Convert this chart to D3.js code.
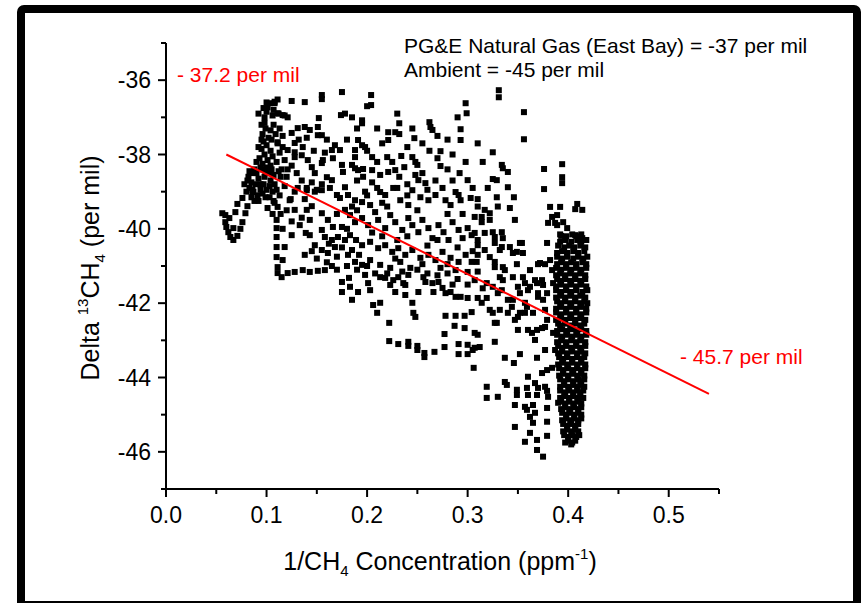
<!DOCTYPE html>
<html><head><meta charset="utf-8">
<script src="https://cdn.jsdelivr.net/npm/d3@7"></script>
<style>body{margin:0;background:#fff}svg{display:block}</style>
</head><body>
<svg id="chart" width="861" height="603"></svg>
<script>
// ---- data ----
const xMajorTicks = [0.0, 0.1, 0.2, 0.3, 0.4, 0.5];
const xMinorTicks = [0.05, 0.15, 0.25, 0.35, 0.45, 0.55];
const yMajorTicks = [-36, -38, -40, -42, -44, -46];
const yMinorTicks = [-35, -37, -39, -41, -43, -45, -47];
const xTickLabels = ["0.0", "0.1", "0.2", "0.3", "0.4", "0.5"];
const yTickLabels = ["-36", "-38", "-40", "-42", "-44", "-46"];
const fitLine = [[0.06, -38.0], [0.54, -44.44]];
const fitLabels = ["- 37.2 per mil", "- 45.7 per mil"];
const notes = ["PG&E Natural Gas (East Bay) = -37 per mil", "Ambient = -45 per mil"];
// 1/CH4 (ppm^-1), delta13CH4 (per mil)
const samples = [
[0.059,-39.63],[0.059,-39.82],[0.060,-39.95],[0.062,-40.09],[0.064,-40.22],[0.067,-40.30],[0.071,-40.19],[0.074,-40.0],[0.076,-39.82],[0.069,-39.55],[0.071,-39.33],[0.076,-39.17],[0.079,-39.58],[0.081,-39.39],[0.086,-39.01],[0.056,-39.58],[0.063,-39.71],[0.067,-39.98],
[0.097,-36.75],[0.103,-36.62],[0.108,-36.58],[0.111,-36.52],[0.100,-36.85],[0.107,-36.8],[0.112,-36.9],[0.118,-36.95],[0.121,-37.0],[0.098,-37.0],[0.095,-37.2],
[0.099,-37.3],[0.104,-37.35],[0.096,-37.45],[0.102,-37.55],[0.097,-37.65],[0.105,-37.6],[0.100,-37.75],[0.095,-37.85],[0.104,-37.9],[0.098,-38.0],[0.106,-38.05],[0.093,-38.1],[0.101,-38.15],[0.096,-38.25],[0.104,-38.3],[0.109,-37.45],[0.111,-37.7],[0.113,-37.95],[0.11,-38.2],
[0.082,-38.6],[0.085,-38.75],[0.083,-38.9],[0.087,-39.0],[0.09,-38.5],[0.092,-38.65],[0.089,-38.8],[0.094,-38.95],[0.091,-39.1],[0.096,-38.4],[0.098,-38.6],[0.097,-38.8],[0.100,-38.95],[0.099,-39.15],[0.102,-38.5],[0.104,-38.7],[0.103,-38.85],[0.106,-39.0],[0.088,-38.4],[0.085,-39.15],[0.08,-39.0],[0.078,-38.8],[0.107,-38.55],[0.094,-38.35],[0.086,-38.5],[0.092,-39.25],[0.1,-38.35],[0.108,-38.8],[0.11,-38.95],
[0.092,-36.9],[0.095,-37.6],[0.092,-37.8],[0.09,-38.2],[0.107,-37.2],[0.113,-37.3],[0.116,-37.5],[0.114,-38.6],[0.112,-38.45],[0.118,-38.15],[0.121,-38.4],[0.094,-38.8],[0.086,-38.95],[0.081,-38.7],[0.088,-39.25],[0.096,-39.05],[0.103,-39.15],[0.107,-39.25],[0.083,-38.45],[0.099,-38.5],[0.105,-38.4],[0.1,-36.6],[0.106,-36.95],[0.098,-37.15],
[0.111,-37.67],[0.116,-37.8],[0.121,-37.88],[0.128,-37.94],[0.128,-38.07],[0.135,-38.02],[0.141,-38.15],[0.145,-38.34],[0.148,-38.5],[0.155,-38.23],[0.156,-38.15],[0.136,-37.8],[0.128,-37.69],[0.125,-37.42],[0.131,-37.29],[0.138,-37.26],[0.143,-37.34],[0.151,-37.26],[0.151,-37.48],[0.155,-37.48],[0.168,-37.75],[0.165,-37.88],[0.166,-38.1],[0.173,-37.88],[0.175,-38.28],[0.176,-38.47],[0.165,-38.69],[0.16,-38.61],[0.125,-36.56],[0.138,-36.59],[0.155,-36.4],[0.155,-36.51],[0.175,-36.32],[0.174,-36.94],[0.152,-37.02],[0.116,-36.94],[0.111,-36.89],[0.101,-36.73],[0.108,-36.62],
[0.115,-38.4],[0.12,-38.6],[0.125,-38.3],[0.13,-38.5],[0.118,-38.85],[0.135,-38.7],[0.14,-38.9],[0.113,-39.1],[0.128,-39.0],[0.145,-38.75],[0.15,-38.95],[0.155,-38.8],[0.124,-39.2],[0.138,-39.2],[0.132,-37.6],[0.14,-37.55],[0.147,-37.9],[0.16,-37.6],[0.158,-37.95],
[0.101,-39.44],[0.111,-39.41],[0.11,-39.76],[0.11,-39.98],[0.11,-40.22],[0.11,-40.49],[0.11,-40.76],[0.111,-41.03],[0.118,-40.49],[0.116,-40.84],[0.125,-40.17],[0.139,-40.11],[0.114,-39.6],[0.108,-39.3],[0.116,-40.0],[0.12,-39.5],[0.106,-39.6],
[0.111,-41.19],[0.115,-41.3],[0.121,-41.19],[0.128,-41.16],[0.136,-41.11],[0.143,-41.16],[0.151,-41.13],[0.158,-41.11],[0.165,-41.0],[0.175,-41.43],[0.175,-41.7],
[0.131,-38.9],[0.14,-38.96],[0.148,-39.0],[0.155,-38.96],[0.14,-39.49],[0.145,-39.39],[0.163,-38.9],[0.17,-39.09],[0.173,-39.17],[0.155,-39.58],[0.161,-39.76],[0.166,-39.95],[0.155,-40.03],[0.158,-40.22],[0.165,-40.3],[0.168,-40.49],[0.155,-40.57],[0.161,-40.65],[0.171,-40.22],[0.175,-39.95],[0.143,-39.76],[0.133,-39.9],[0.148,-40.44],[0.138,-40.7],[0.128,-39.49],[0.123,-39.23],[0.143,-40.17],[0.15,-40.8],[0.16,-40.9],[0.17,-40.75],[0.145,-40.6],[0.135,-39.7],[0.125,-39.8],
[0.204,-36.4],[0.204,-36.67],[0.298,-36.62],[0.299,-36.89],[0.195,-37.08],[0.195,-37.16],[0.232,-37.16],[0.262,-37.13],[0.263,-37.26],[0.265,-37.34],[0.221,-37.4],[0.228,-37.4],[0.232,-37.45],[0.221,-37.61],[0.247,-37.56],[0.293,-37.32],[0.293,-37.61],[0.191,-37.61],[0.195,-37.75],[0.198,-37.8],[0.188,-37.88],[0.188,-38.07],[0.273,-37.91],[0.273,-38.31],[0.205,-38.07],[0.22,-38.07],[0.234,-38.04],[0.245,-38.07],[0.248,-38.2],[0.25,-38.28],
[0.185,-38.28],[0.188,-38.37],[0.191,-38.42],[0.196,-38.39],[0.205,-38.42],[0.213,-38.55],[0.221,-38.47],[0.228,-38.42],[0.237,-38.34],[0.248,-38.55],[0.251,-38.69],[0.258,-38.77],[0.3,-38.69],[0.288,-39.01],[0.291,-39.09],
[0.178,-38.88],[0.181,-39.09],[0.188,-39.23],[0.195,-39.28],[0.203,-39.36],[0.213,-39.01],[0.218,-39.09],[0.226,-38.9],[0.233,-39.23],[0.241,-39.36],[0.245,-38.96],[0.253,-39.15],[0.261,-39.23],[0.268,-39.09],[0.278,-39.23],[0.283,-39.36],[0.293,-39.23],[0.303,-39.17],
[0.178,-39.49],[0.183,-39.63],[0.188,-39.82],[0.195,-39.71],[0.201,-39.9],[0.208,-39.55],[0.211,-39.76],[0.218,-39.98],[0.223,-39.63],[0.228,-39.82],[0.235,-40.03],[0.241,-39.71],[0.245,-39.9],[0.251,-40.09],[0.255,-39.76],[0.261,-39.98],[0.265,-40.25],[0.271,-39.9],[0.276,-40.09],[0.281,-40.3],[0.285,-39.82],[0.291,-40.03],[0.295,-40.25],[0.3,-39.98],[0.304,-40.17],
[0.183,-40.17],[0.189,-40.3],[0.195,-40.44],[0.203,-40.35],[0.211,-40.52],[0.218,-40.44],[0.225,-40.62],[0.231,-40.52],[0.238,-40.7],[0.245,-40.57],[0.253,-40.78],[0.261,-40.7],[0.268,-40.84],[0.275,-40.62],[0.283,-40.78],[0.291,-40.89],[0.298,-40.7],[0.304,-40.89],[0.181,-40.7],[0.188,-40.89],[0.195,-40.97],[0.203,-40.84],[0.213,-40.97],[0.223,-41.05],[0.233,-40.89],[0.243,-41.05],[0.185,-40.57],[0.273,-41.05],[0.288,-41.11],[0.3,-41.16],
[0.17,-39.6],[0.18,-40.0],[0.19,-39.5],[0.2,-39.1],[0.205,-40.1],[0.215,-40.2],[0.22,-39.4],[0.23,-40.3],[0.24,-40.2],[0.25,-39.5],[0.26,-40.45],[0.27,-40.3],[0.28,-39.6],[0.29,-40.5],[0.295,-39.6],[0.305,-40.6],[0.175,-40.5],[0.19,-41.1],[0.2,-41.0],[0.208,-41.2],[0.22,-41.2],[0.235,-41.15],[0.25,-41.1],[0.26,-41.2],[0.27,-41.25],[0.28,-41.2],[0.29,-41.35],[0.3,-41.5],[0.31,-41.15],[0.315,-41.6],[0.285,-41.5],[0.17,-41.1],[0.18,-41.0],[0.162,-40.4],[0.178,-40.3],[0.192,-40.7],[0.228,-40.8],[0.255,-40.95],[0.28,-40.95],[0.31,-40.7],[0.24,-39.1],[0.26,-38.95],[0.285,-38.7],[0.23,-38.9],[0.196,-38.6],[0.21,-38.9],
[0.185,-41.91],[0.191,-41.7],[0.206,-42.05],[0.21,-42.26],[0.213,-41.99],[0.198,-41.24],[0.201,-41.46],[0.213,-41.3],[0.218,-41.32],[0.231,-41.3],[0.238,-41.51],[0.241,-41.24],[0.236,-41.46],[0.238,-41.78],[0.245,-41.99],[0.246,-42.26],[0.248,-42.37],[0.251,-41.7],[0.256,-41.3],[0.258,-41.43],[0.265,-41.46],[0.266,-41.7],[0.271,-41.43],[0.275,-41.59],[0.278,-41.73],[0.283,-41.7],[0.288,-41.83],[0.293,-41.83],[0.3,-41.86],[0.182,-41.32],[0.183,-41.56],[0.203,-41.65],[0.223,-41.51],[0.228,-41.7],[0.226,-41.38],
[0.222,-42.53],[0.222,-43.02],[0.231,-43.1],[0.241,-43.04],[0.241,-43.15],[0.25,-43.15],[0.25,-43.26],[0.257,-43.34],[0.257,-43.45],[0.267,-43.31],[0.277,-43.18],[0.277,-42.83],[0.278,-42.34],[0.288,-42.34],[0.297,-42.34],[0.287,-42.61],[0.297,-42.67],[0.291,-43.1],[0.3,-43.12],[0.291,-43.37],[0.3,-43.37],[0.305,-43.26],[0.306,-43.74],[0.304,-42.24],
[0.331,-36.27],[0.331,-36.46],[0.356,-36.86],[0.356,-37.59],[0.325,-37.94],[0.334,-38.28],[0.335,-38.37],[0.34,-38.47],[0.376,-38.39],[0.394,-38.26],[0.394,-38.61],[0.394,-38.77],[0.325,-38.66],[0.329,-38.69],[0.34,-38.88],[0.376,-38.93],[0.329,-39.15],[0.346,-39.15],[0.342,-39.44],[0.317,-39.49],[0.322,-39.58],[0.382,-39.41],[0.392,-39.41],[0.409,-39.33],[0.407,-39.47],[0.414,-39.49],[0.347,-39.76],[0.389,-39.63],[0.389,-39.9],[0.38,-39.84],[0.395,-39.82],[0.399,-39.98],[0.307,-39.68],[0.314,-39.68],[0.314,-39.82],[0.322,-39.76],[0.307,-40.11],[0.31,-40.3],[0.317,-40.11],[0.325,-40.09],[0.327,-40.22],[0.334,-40.09],[0.335,-40.25],[0.31,-40.44],[0.327,-40.38],[0.334,-40.49],[0.342,-40.49],[0.349,-40.62],[0.355,-40.65],[0.354,-40.38],[0.379,-40.38],[0.393,-40.19],[0.407,-40.17],[0.414,-40.25],[0.37,-40.95],[0.377,-40.95],[0.349,-40.95],[0.327,-40.89],[0.327,-41.03],[0.309,-40.89],
[0.332,-40.57],[0.317,-40.57],[0.322,-40.76],[0.335,-41.03],[0.345,-40.65],[0.352,-40.38],[0.362,-41.11],[0.355,-41.3],[0.345,-41.3],[0.332,-41.3],[0.319,-41.46],[0.325,-41.56],[0.33,-41.73],[0.345,-41.91],[0.352,-41.73],[0.362,-41.56],[0.369,-41.46],[0.37,-41.73],[0.375,-41.91],[0.377,-42.18],[0.359,-42.1],[0.352,-42.26],[0.365,-42.26],[0.379,-42.45],[0.385,-41.46],[0.384,-41.11],[0.382,-40.84],[0.372,-40.92],[0.384,-39.68],[0.387,-39.84],
[0.307,-41.38],[0.31,-41.86],[0.314,-41.99],[0.319,-41.86],[0.322,-42.18],[0.325,-42.26],[0.327,-42.53],[0.332,-42.18],[0.334,-41.65],[0.335,-41.38],[0.337,-41.11],[0.34,-41.91],[0.344,-42.1],[0.34,-42.26],[0.347,-42.45],[0.35,-42.37],[0.357,-42.26],[0.35,-42.72],[0.36,-42.72],[0.364,-42.8],[0.369,-42.72],[0.374,-42.67],[0.377,-42.64],[0.367,-42.99],[0.377,-43.26],[0.387,-43.26],[0.385,-42.8],[0.35,-41.56],[0.357,-41.46],[0.36,-41.65],[0.367,-41.38],[0.374,-41.38],[0.375,-41.51],[0.379,-41.73],[0.37,-41.83],[0.357,-41.99],[0.307,-42.8],[0.31,-42.85],[0.312,-43.18],[0.307,-43.2],[0.327,-43.04],[0.329,-42.53],[0.337,-43.47],[0.346,-43.61],[0.352,-43.37],[0.369,-43.47],[0.36,-43.98],[0.379,-43.8],[0.384,-43.74],[0.374,-43.88],[0.367,-44.15],[0.37,-44.28],[0.377,-44.25],[0.319,-44.25],[0.319,-44.55],[0.33,-44.52],[0.337,-44.12],[0.339,-44.2],[0.349,-44.33],[0.349,-44.47],[0.359,-44.28],[0.36,-44.47],[0.369,-44.47],[0.379,-44.36],[0.38,-44.52],[0.347,-44.74],[0.357,-44.79],[0.359,-44.87],[0.365,-44.74],[0.367,-44.95],[0.379,-44.82],[0.39,-44.68],[0.362,-45.06],[0.365,-45.22],[0.379,-45.19],[0.347,-45.33],[0.362,-45.49],[0.357,-45.73],[0.369,-45.68],[0.379,-45.57],[0.369,-45.95],[0.375,-46.13],
[0.262,-37.9],[0.27,-38.1],[0.28,-38.4],[0.285,-38.0],[0.292,-38.5],[0.298,-38.2],[0.305,-38.9],[0.31,-39.2],[0.268,-38.7],[0.275,-38.9],[0.255,-38.5],[0.24,-38.8],[0.232,-38.6],[0.225,-38.2],[0.21,-38.2],[0.2,-37.9],[0.215,-37.7],[0.24,-37.8],[0.255,-37.7],[0.28,-37.6],[0.27,-37.5],[0.245,-37.3],[0.21,-37.3],[0.185,-37.0],[0.19,-37.3],[0.18,-37.6],[0.2,-36.7],[0.178,-36.9],[0.23,-36.9],[0.29,-37.0],[0.31,-37.7],[0.315,-38.2],[0.32,-38.9],[0.33,-39.4],[0.31,-39.4],[0.19,-38.7],[0.198,-39.0],[0.205,-38.75],[0.215,-39.3],[0.185,-39.4],
[0.392,-40.15],[0.404,-40.15],[0.413,-40.15],[0.397,-40.3],[0.409,-40.3],[0.418,-40.3],[0.390,-40.45],[0.401,-40.45],[0.412,-40.45],[0.394,-40.6],[0.405,-40.6],[0.416,-40.6],[0.389,-40.75],[0.399,-40.75],[0.410,-40.75],[0.419,-40.75],[0.393,-40.9],[0.403,-40.9],[0.414,-40.9],[0.388,-41.05],[0.398,-41.05],[0.408,-41.05],[0.418,-41.05],[0.392,-41.2],[0.402,-41.2],[0.412,-41.2],[0.389,-41.35],[0.397,-41.35],[0.407,-41.35],[0.417,-41.35],[0.393,-41.5],[0.403,-41.5],[0.413,-41.5],[0.388,-41.65],[0.398,-41.65],[0.408,-41.65],[0.419,-41.65],[0.392,-41.8],[0.402,-41.8],[0.412,-41.8],[0.389,-41.95],[0.397,-41.95],[0.407,-41.95],[0.416,-41.95],[0.393,-42.1],[0.403,-42.1],[0.413,-42.1],[0.388,-42.25],[0.398,-42.25],[0.408,-42.25],[0.418,-42.25],[0.392,-42.4],[0.402,-42.4],[0.412,-42.4],[0.390,-42.55],[0.397,-42.55],[0.407,-42.55],[0.416,-42.55],[0.394,-42.7],[0.403,-42.7],[0.413,-42.7],[0.389,-42.85],[0.399,-42.85],[0.409,-42.85],[0.418,-42.85],[0.393,-43.0],[0.403,-43.0],[0.412,-43.0],[0.390,-43.15],[0.398,-43.15],[0.408,-43.15],[0.417,-43.15],[0.394,-43.3],[0.404,-43.3],[0.413,-43.3],[0.391,-43.45],[0.399,-43.45],[0.409,-43.45],[0.416,-43.45],[0.394,-43.6],[0.404,-43.6],[0.413,-43.6],[0.391,-43.75],[0.400,-43.75],[0.409,-43.75],[0.417,-43.75],[0.395,-43.9],[0.405,-43.9],[0.413,-43.9],[0.392,-44.05],[0.400,-44.05],[0.410,-44.05],[0.416,-44.05],[0.396,-44.2],[0.405,-44.2],[0.412,-44.2],[0.392,-44.35],[0.401,-44.35],[0.409,-44.35],[0.415,-44.35],[0.396,-44.5],[0.405,-44.5],[0.412,-44.5],[0.393,-44.65],[0.401,-44.65],[0.410,-44.65],[0.397,-44.8],[0.406,-44.8],[0.413,-44.8],[0.394,-44.95],[0.402,-44.95],[0.410,-44.95],[0.398,-45.1],[0.406,-45.1],[0.413,-45.1],[0.395,-45.25],[0.403,-45.25],[0.410,-45.25],[0.399,-45.4],[0.407,-45.4],[0.396,-45.55],[0.404,-45.55],[0.411,-45.55],[0.400,-45.7],[0.407,-45.7],[0.403,-45.8],
[0.398,-40.2],[0.408,-40.2],[0.392,-40.35],[0.403,-40.35],[0.413,-40.35],[0.396,-40.5],[0.406,-40.5],[0.417,-40.5],[0.389,-40.65],[0.399,-40.65],[0.410,-40.65],[0.394,-40.8],[0.405,-40.8],[0.415,-40.8],[0.389,-40.95],[0.398,-40.95],[0.408,-40.95],[0.418,-40.95],[0.393,-41.1],[0.403,-41.1],[0.413,-41.1],[0.388,-41.25],[0.397,-41.25],[0.407,-41.25],[0.417,-41.25],[0.392,-41.4],[0.402,-41.4],[0.412,-41.4],[0.388,-41.55],[0.398,-41.55],[0.408,-41.55],[0.418,-41.55],[0.393,-41.7],[0.403,-41.7],[0.414,-41.7],[0.388,-41.85],[0.397,-41.85],[0.407,-41.85],[0.417,-41.85],[0.392,-42.0],[0.402,-42.0],[0.412,-42.0],[0.419,-42.0],[0.388,-42.15],[0.398,-42.15],[0.408,-42.15],[0.418,-42.15],[0.393,-42.3],[0.403,-42.3],[0.413,-42.3],[0.388,-42.45],[0.397,-42.45],[0.407,-42.45],[0.417,-42.45],[0.392,-42.6],[0.402,-42.6],[0.412,-42.6],[0.389,-42.75],[0.398,-42.75],[0.408,-42.75],[0.418,-42.75],[0.394,-42.9],[0.404,-42.9],[0.413,-42.9],[0.389,-43.05],[0.398,-43.05],[0.408,-43.05],[0.417,-43.05],[0.394,-43.2],[0.403,-43.2],[0.412,-43.2],[0.390,-43.35],[0.399,-43.35],[0.409,-43.35],[0.417,-43.35],[0.395,-43.5],[0.404,-43.5],[0.413,-43.5],[0.390,-43.65],[0.399,-43.65],[0.409,-43.65],[0.417,-43.65],[0.395,-43.8],[0.404,-43.8],[0.413,-43.8],[0.391,-43.95],[0.400,-43.95],[0.409,-43.95],[0.416,-43.95],[0.396,-44.1],[0.405,-44.1],[0.413,-44.1],[0.392,-44.25],[0.400,-44.25],[0.409,-44.25],[0.416,-44.25],[0.397,-44.4],[0.405,-44.4],[0.412,-44.4],[0.392,-44.55],[0.401,-44.55],[0.409,-44.55],[0.415,-44.55],[0.397,-44.7],[0.405,-44.7],[0.413,-44.7],[0.393,-44.85],[0.401,-44.85],[0.410,-44.85],[0.398,-45.0],[0.406,-45.0],[0.413,-45.0],[0.394,-45.15],[0.402,-45.15],[0.410,-45.15],[0.399,-45.3],[0.407,-45.3],[0.395,-45.45],[0.403,-45.45],[0.410,-45.45],[0.400,-45.6],[0.408,-45.6],[0.397,-45.75],[0.404,-45.75]
];

// ---- layout ----
const svg = d3.select("#chart");
const font = "'Liberation Sans', Arial, sans-serif";
const x = d3.scaleLinear().domain([0, 0.55]).range([166, 719]);
const y = d3.scaleLinear().domain([-47, -35]).range([489, 43]);

// outer frame
svg.append("rect").attr("x", 21).attr("y", 9).attr("width", 836).attr("height", 596)
  .attr("rx", 3).attr("fill", "none").attr("stroke", "#000").attr("stroke-width", 8);

// axes
const gx = svg.append("g").attr("transform", `translate(0,${y.range()[0]})`);
gx.append("line").attr("x1", x.range()[0]).attr("x2", x.range()[1]).attr("stroke", "#000").attr("stroke-width", 2);
gx.selectAll(".maj").data(xMajorTicks).join("line")
  .attr("x1", d => x(d)).attr("x2", d => x(d)).attr("y1", 0).attr("y2", 8).attr("stroke", "#000").attr("stroke-width", 2);
gx.selectAll(".min").data(xMinorTicks).join("line")
  .attr("x1", d => x(d)).attr("x2", d => x(d)).attr("y1", 0).attr("y2", 5).attr("stroke", "#000").attr("stroke-width", 2);
gx.selectAll("text").data(xMajorTicks).join("text")
  .attr("x", d => x(d)).attr("y", 34).attr("text-anchor", "middle")
  .attr("font-family", font).attr("font-size", 23).text((d, i) => xTickLabels[i]);

const gy = svg.append("g").attr("transform", `translate(${x.range()[0]},0)`);
gy.append("line").attr("y1", y.range()[0]).attr("y2", y.range()[1]).attr("stroke", "#000").attr("stroke-width", 2);
gy.selectAll(".maj").data(yMajorTicks).join("line")
  .attr("y1", d => y(d)).attr("y2", d => y(d)).attr("x1", 0).attr("x2", -8).attr("stroke", "#000").attr("stroke-width", 2);
gy.selectAll(".min").data(yMinorTicks).join("line")
  .attr("y1", d => y(d)).attr("y2", d => y(d)).attr("x1", 0).attr("x2", -5).attr("stroke", "#000").attr("stroke-width", 2);
gy.selectAll("text").data(yMajorTicks).join("text")
  .attr("x", -15).attr("y", d => y(d) + 8).attr("text-anchor", "end")
  .attr("font-family", font).attr("font-size", 23).text((d, i) => yTickLabels[i]);

// axis titles
const xt = svg.append("text").attr("x", 440).attr("y", 570).attr("text-anchor", "middle")
  .attr("font-family", font).attr("font-size", 25);
xt.append("tspan").text("1/CH");
xt.append("tspan").attr("font-size", 15).attr("dy", 6).text("4");
xt.append("tspan").attr("dy", -6).text(" Concentration (ppm");
xt.append("tspan").attr("font-size", 15).attr("dy", -11).text("-1");
xt.append("tspan").attr("dy", 11).text(")");

const yt = svg.append("text").attr("transform", "translate(99,268) rotate(-90)").attr("text-anchor", "middle")
  .attr("font-family", font).attr("font-size", 25);
yt.append("tspan").text("Delta ");
yt.append("tspan").attr("font-size", 15).attr("dy", -11).text("13");
yt.append("tspan").attr("dy", 11).text("CH");
yt.append("tspan").attr("font-size", 15).attr("dy", 6).text("4");
yt.append("tspan").attr("dy", -6).text(" (per mil)");

// points
const s = 6;
svg.append("g").selectAll("rect").data(samples).join("rect")
  .attr("x", d => x(d[0]) - s / 2).attr("y", d => y(d[1]) - s / 2)
  .attr("width", s).attr("height", s).attr("fill", "#000");

// fit line
svg.append("path").attr("d", d3.line().x(d => x(d[0])).y(d => y(d[1]))(fitLine))
  .attr("stroke", "#ff0000").attr("stroke-width", 2).attr("fill", "none");

// annotations
svg.append("text").attr("x", 177).attr("y", 82).attr("fill", "#ff0000")
  .attr("font-family", font).attr("font-size", 21).text(fitLabels[0]);
svg.append("text").attr("x", 680).attr("y", 364).attr("fill", "#ff0000")
  .attr("font-family", font).attr("font-size", 21).text(fitLabels[1]);
svg.selectAll(".note").data(notes).join("text")
  .attr("x", 404).attr("y", (d, i) => 53 + i * 24)
  .attr("font-family", font).attr("font-size", 21).text(d => d);
</script>
</body></html>
